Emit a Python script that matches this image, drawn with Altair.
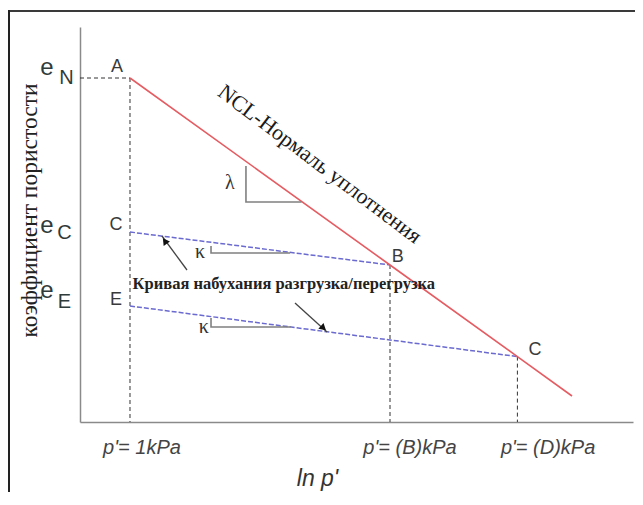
import altair as alt
import pandas as pd

# ---------------- data (x = ln p', y = void ratio e) ----------------
X_MIN, X_MAX = -0.9615, 9.673
E_MAX = 1.975

# Normal compression line A -> B -> C(D) -> end
ncl_x = [0.0, 5.0, 7.45, 8.5]
ncl_e = [1.72, 0.785, 0.327, 0.13]

# swelling (unload / reload) lines
sw1_x = [0.0, 5.0]
sw1_e = [0.95, 0.785]
sw2_x = [0.0, 7.45]
sw2_e = [0.58, 0.327]

# vertical dashed guides from the points down to the axis
guide_x = [0.0, 5.0, 7.45]
guide_top = [1.72, 0.785, 0.327]
# horizontal dashed guide at e_N
eN_level = 1.72

# slope triangles
lam_x = [2.23, 2.23, 3.3]
lam_e = [1.28, 1.10, 1.10]
kap1_x = [1.558, 1.558, 3.08]
kap1_e = [0.88, 0.845, 0.845]
kap2_x = [1.558, 1.558, 3.09]
kap2_e = [0.52, 0.475, 0.475]

# arrows (tail, tip)
arr1_x = [1.096, 0.615]
arr1_e = [0.76, 0.93]
arr2_x = [3.173, 3.788]
arr2_e = [0.595, 0.45]
head_x = [0.67, 3.72]
head_e = [0.905, 0.47]
head_angle = [324, 132]

# point letters
pt_text = ["A", "C", "E", "B", "C"]
pt_x = [-0.25, -0.27, -0.27, 5.15, 7.79]
pt_e = [1.775, 0.985, 0.61, 0.825, 0.36]

# y-axis level labels e_N, e_C, e_E
e_x = [-1.596, -1.596, -1.596]
e_e = [1.77, 0.98, 0.655]
sub_text = ["N", "C", "E"]
sub_x = [-1.22, -1.26, -1.26]
sub_e = [1.72, 0.945, 0.60]

# greek slope labels
greek_text = ["λ", "κ", "κ"]
greek_x = [1.92, 1.346, 1.42]
greek_e = [1.195, 0.85, 0.475]

# x tick labels
tick_text = ["p'= 1kPa", "p'= (B)kPa", "p'= (D)kPa"]
tick_x = [0.23, 5.385, 8.04]

ncl_label = "NCL-Нормаль уплотнения"
ncl_label_x, ncl_label_e = 3.65, 1.29
swell_label = "Кривая набухания разгрузка/перегрузка"
swell_label_x, swell_label_e = 0.05, 0.69

# ---------------- chart ----------------
XS = alt.Scale(domain=[X_MIN, X_MAX], nice=False, zero=False)
YS = alt.Scale(domain=[0, E_MAX], nice=False, zero=False)

x_axis = alt.Axis(title="ln p'", labels=False, ticks=False, grid=False,
                  domainColor="#8a8a8a", domainWidth=1.5,
                  titleFont="Liberation Sans", titleFontStyle="italic",
                  titleFontWeight="normal", titleFontSize=23, titleColor="#333333",
                  titleX=237, titleY=56, titleAlign="center", titleBaseline="middle")
y_axis = alt.Axis(title="коэффициент пористости", labels=False, ticks=False, grid=False,
                  domainColor="#8a8a8a", domainWidth=1.5,
                  titleFont="Liberation Serif", titleFontWeight="normal",
                  titleFontSize=23.5, titleColor="#222222",
                  titleX=-51, titleY=183, titleAngle=270,
                  titleAlign="center", titleBaseline="middle")


def X(f="x"):
    return alt.X(f, type="quantitative", scale=XS, axis=x_axis)


def Y(f="e"):
    return alt.Y(f, type="quantitative", scale=YS, axis=y_axis)


def path(xs, es):
    return pd.DataFrame({"x": xs, "e": es, "o": list(range(len(xs)))})


layers = []

# dashed black guides
guides = pd.DataFrame({"x": guide_x, "e": guide_top, "e0": [0.0] * len(guide_x)})
layers.append(alt.Chart(guides).mark_rule(color="#333333", strokeWidth=1, strokeDash=[4, 3])
              .encode(x=X(), y=Y(), y2="e0"))
hguide = pd.DataFrame({"x": [X_MIN], "x1": [0.0], "e": [eN_level]})
layers.append(alt.Chart(hguide).mark_rule(color="#333333", strokeWidth=1, strokeDash=[4, 3])
              .encode(x=X(), x2="x1", y=Y()))

# swelling lines
for xs, es in [(sw1_x, sw1_e), (sw2_x, sw2_e)]:
    layers.append(alt.Chart(path(xs, es)).mark_line(color="#6a6ad0", strokeWidth=1.5,
                                                    strokeDash=[5, 2])
                  .encode(x=X(), y=Y(), order="o:Q"))

# NCL
layers.append(alt.Chart(path(ncl_x, ncl_e)).mark_line(color="#e55c62", strokeWidth=1.6)
              .encode(x=X(), y=Y(), order="o:Q"))

# slope triangles
for xs, es in [(lam_x, lam_e), (kap1_x, kap1_e), (kap2_x, kap2_e)]:
    layers.append(alt.Chart(path(xs, es)).mark_line(color="#808080", strokeWidth=1.6)
                  .encode(x=X(), y=Y(), order="o:Q"))

# arrows
for xs, es in [(arr1_x, arr1_e), (arr2_x, arr2_e)]:
    layers.append(alt.Chart(path(xs, es)).mark_line(color="#444444", strokeWidth=1.3)
                  .encode(x=X(), y=Y(), order="o:Q"))
heads = pd.DataFrame({"x": head_x, "e": head_e, "a": head_angle})
layers.append(alt.Chart(heads).mark_point(shape="triangle-up", filled=True, color="#111111",
                                          size=60, opacity=1)
              .encode(x=X(), y=Y(), angle=alt.Angle("a:Q", scale=None)))

# point letters
pts = pd.DataFrame({"x": pt_x, "e": pt_e, "t": pt_text})
layers.append(alt.Chart(pts).mark_text(font="Liberation Sans", fontSize=18, color="#3a3a3a")
              .encode(x=X(), y=Y(), text="t:N"))

# e labels
elab = pd.DataFrame({"x": e_x, "e": e_e, "t": ["e"] * 3})
layers.append(alt.Chart(elab).mark_text(font="Liberation Sans", fontSize=24, color="#2f3b3b")
              .encode(x=X(), y=Y(), text="t:N"))
slab = pd.DataFrame({"x": sub_x, "e": sub_e, "t": sub_text})
layers.append(alt.Chart(slab).mark_text(font="Liberation Sans", fontSize=20, color="#2f3b3b")
              .encode(x=X(), y=Y(), text="t:N"))

# greek
gl = pd.DataFrame({"x": greek_x, "e": greek_e, "t": greek_text})
layers.append(alt.Chart(gl).mark_text(font="Liberation Serif", fontSize=20, color="#333333")
              .encode(x=X(), y=Y(), text="t:N"))

# tick labels
tl = pd.DataFrame({"x": tick_x, "t": tick_text})
layers.append(alt.Chart(tl).mark_text(font="Liberation Sans", fontStyle="italic", fontSize=20,
                                      color="#444444", baseline="middle")
              .encode(x=X(), y=alt.value(421), text="t:N"))

# NCL label
nl = pd.DataFrame({"x": [ncl_label_x], "e": [ncl_label_e], "t": [ncl_label]})
layers.append(alt.Chart(nl).mark_text(font="Liberation Serif", fontSize=22, color="#1a1a1a",
                                      angle=37, align="center", baseline="middle")
              .encode(x=X(), y=Y(), text="t:N"))

# swelling label
sl = pd.DataFrame({"x": [swell_label_x], "e": [swell_label_e], "t": [swell_label]})
layers.append(alt.Chart(sl).mark_text(font="Liberation Serif", fontSize=16.5, fontWeight="bold",
                                      color="#222222", align="left", baseline="middle")
              .encode(x=X(), y=Y(), text="t:N"))

# outer frame
one = pd.DataFrame({"a": [0]})
layers.append(alt.Chart(one).mark_rule(color="#3a3a3a", strokeWidth=2)
              .encode(x=alt.value(-72), x2=alt.value(600), y=alt.value(-16)))
layers.append(alt.Chart(one).mark_rule(color="#222222", strokeWidth=2)
              .encode(x=alt.value(-71), y=alt.value(-17), y2=alt.value(500)))

chart = alt.layer(*layers).properties(
    width=553, height=395, autosize="none",
    padding={"left": 72, "top": 19, "right": 2, "bottom": 70},
    background="white",
).configure_view(stroke=None)

chart.save("out.html", embed_options={"renderer": "svg", "actions": False})
